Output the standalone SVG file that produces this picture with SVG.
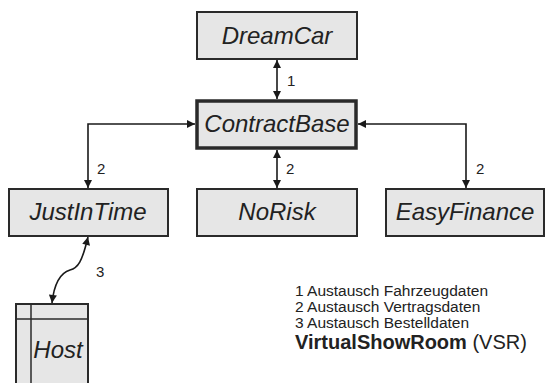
<svg xmlns="http://www.w3.org/2000/svg" width="547" height="383" viewBox="0 0 547 383">
<style>
.box{fill:#e6e6e6;stroke:#2a2a2a;stroke-width:2}
.thick{stroke-width:3.5}
.lbl{font-family:"Liberation Sans",Arial,sans-serif;font-style:italic;font-size:24px;fill:#222;text-anchor:middle}
.num{font-family:"Liberation Sans",Arial,sans-serif;font-size:15px;fill:#222}
.con{fill:none;stroke:#1a1a1a;stroke-width:1.6}
</style>
<defs>
<marker id="ah" viewBox="0 0 10 10" refX="10" refY="5" markerWidth="9" markerHeight="8" orient="auto-start-reverse" markerUnits="userSpaceOnUse">
<path d="M0,0 L10,5 L0,10 z" fill="#1a1a1a"/>
</marker>
</defs>
<g id="connectors">
<line class="con" x1="277" y1="60" x2="277" y2="99" marker-start="url(#ah)" marker-end="url(#ah)"/>
<line class="con" x1="277" y1="150" x2="277" y2="188" marker-start="url(#ah)" marker-end="url(#ah)"/>
<polyline class="con" points="88,188 88,124 195,124" marker-start="url(#ah)" marker-end="url(#ah)"/>
<polyline class="con" points="466,188 466,124 358,124" marker-start="url(#ah)" marker-end="url(#ah)"/>
<path class="con" d="M88,237 C82,262 78,268 70,270 C60,273 54,285 52,303" marker-start="url(#ah)" marker-end="url(#ah)"/>
<text class="num" x="287" y="86">1</text>
<text class="num" x="286" y="174">2</text>
<text class="num" x="97" y="174">2</text>
<text class="num" x="476" y="174">2</text>
<text class="num" x="96" y="277">3</text>
</g>
<g id="DreamCar">
<rect class="box" x="197" y="12" width="160" height="47"/>
<text class="lbl" x="277" y="44">DreamCar</text>
</g>
<g id="ContractBase">
<rect class="box thick" x="197" y="101" width="159" height="47"/>
<text class="lbl" x="277" y="132">ContractBase</text>
</g>
<g id="JustInTime">
<rect class="box" x="9" y="189" width="159" height="47"/>
<text class="lbl" x="88" y="220">JustInTime</text>
</g>
<g id="NoRisk">
<rect class="box" x="197" y="189" width="160" height="47"/>
<text class="lbl" x="277" y="220">NoRisk</text>
</g>
<g id="EasyFinance">
<rect class="box" x="386" y="189" width="158" height="47"/>
<text class="lbl" x="465" y="220">EasyFinance</text>
</g>
<g id="Host">
<rect class="box" x="16" y="304" width="72" height="90"/>
<line x1="31" y1="304" x2="31" y2="383" stroke="#2a2a2a" stroke-width="1.5"/>
<line x1="16" y1="319" x2="88" y2="319" stroke="#2a2a2a" stroke-width="1.5"/>
<text class="lbl" x="58" y="358">Host</text>
</g>
<g id="legend" font-family="'Liberation Sans',Arial,sans-serif" fill="#222">
<text x="295" y="296" font-size="15.5">1 Austausch Fahrzeugdaten</text>
<text x="295" y="312" font-size="15.5">2 Austausch Vertragsdaten</text>
<text x="295" y="328" font-size="15.5">3 Austausch Bestelldaten</text>
<text x="295" y="349" font-size="20"><tspan font-weight="bold">VirtualShowRoom</tspan> (VSR)</text>
</g>
</svg>
